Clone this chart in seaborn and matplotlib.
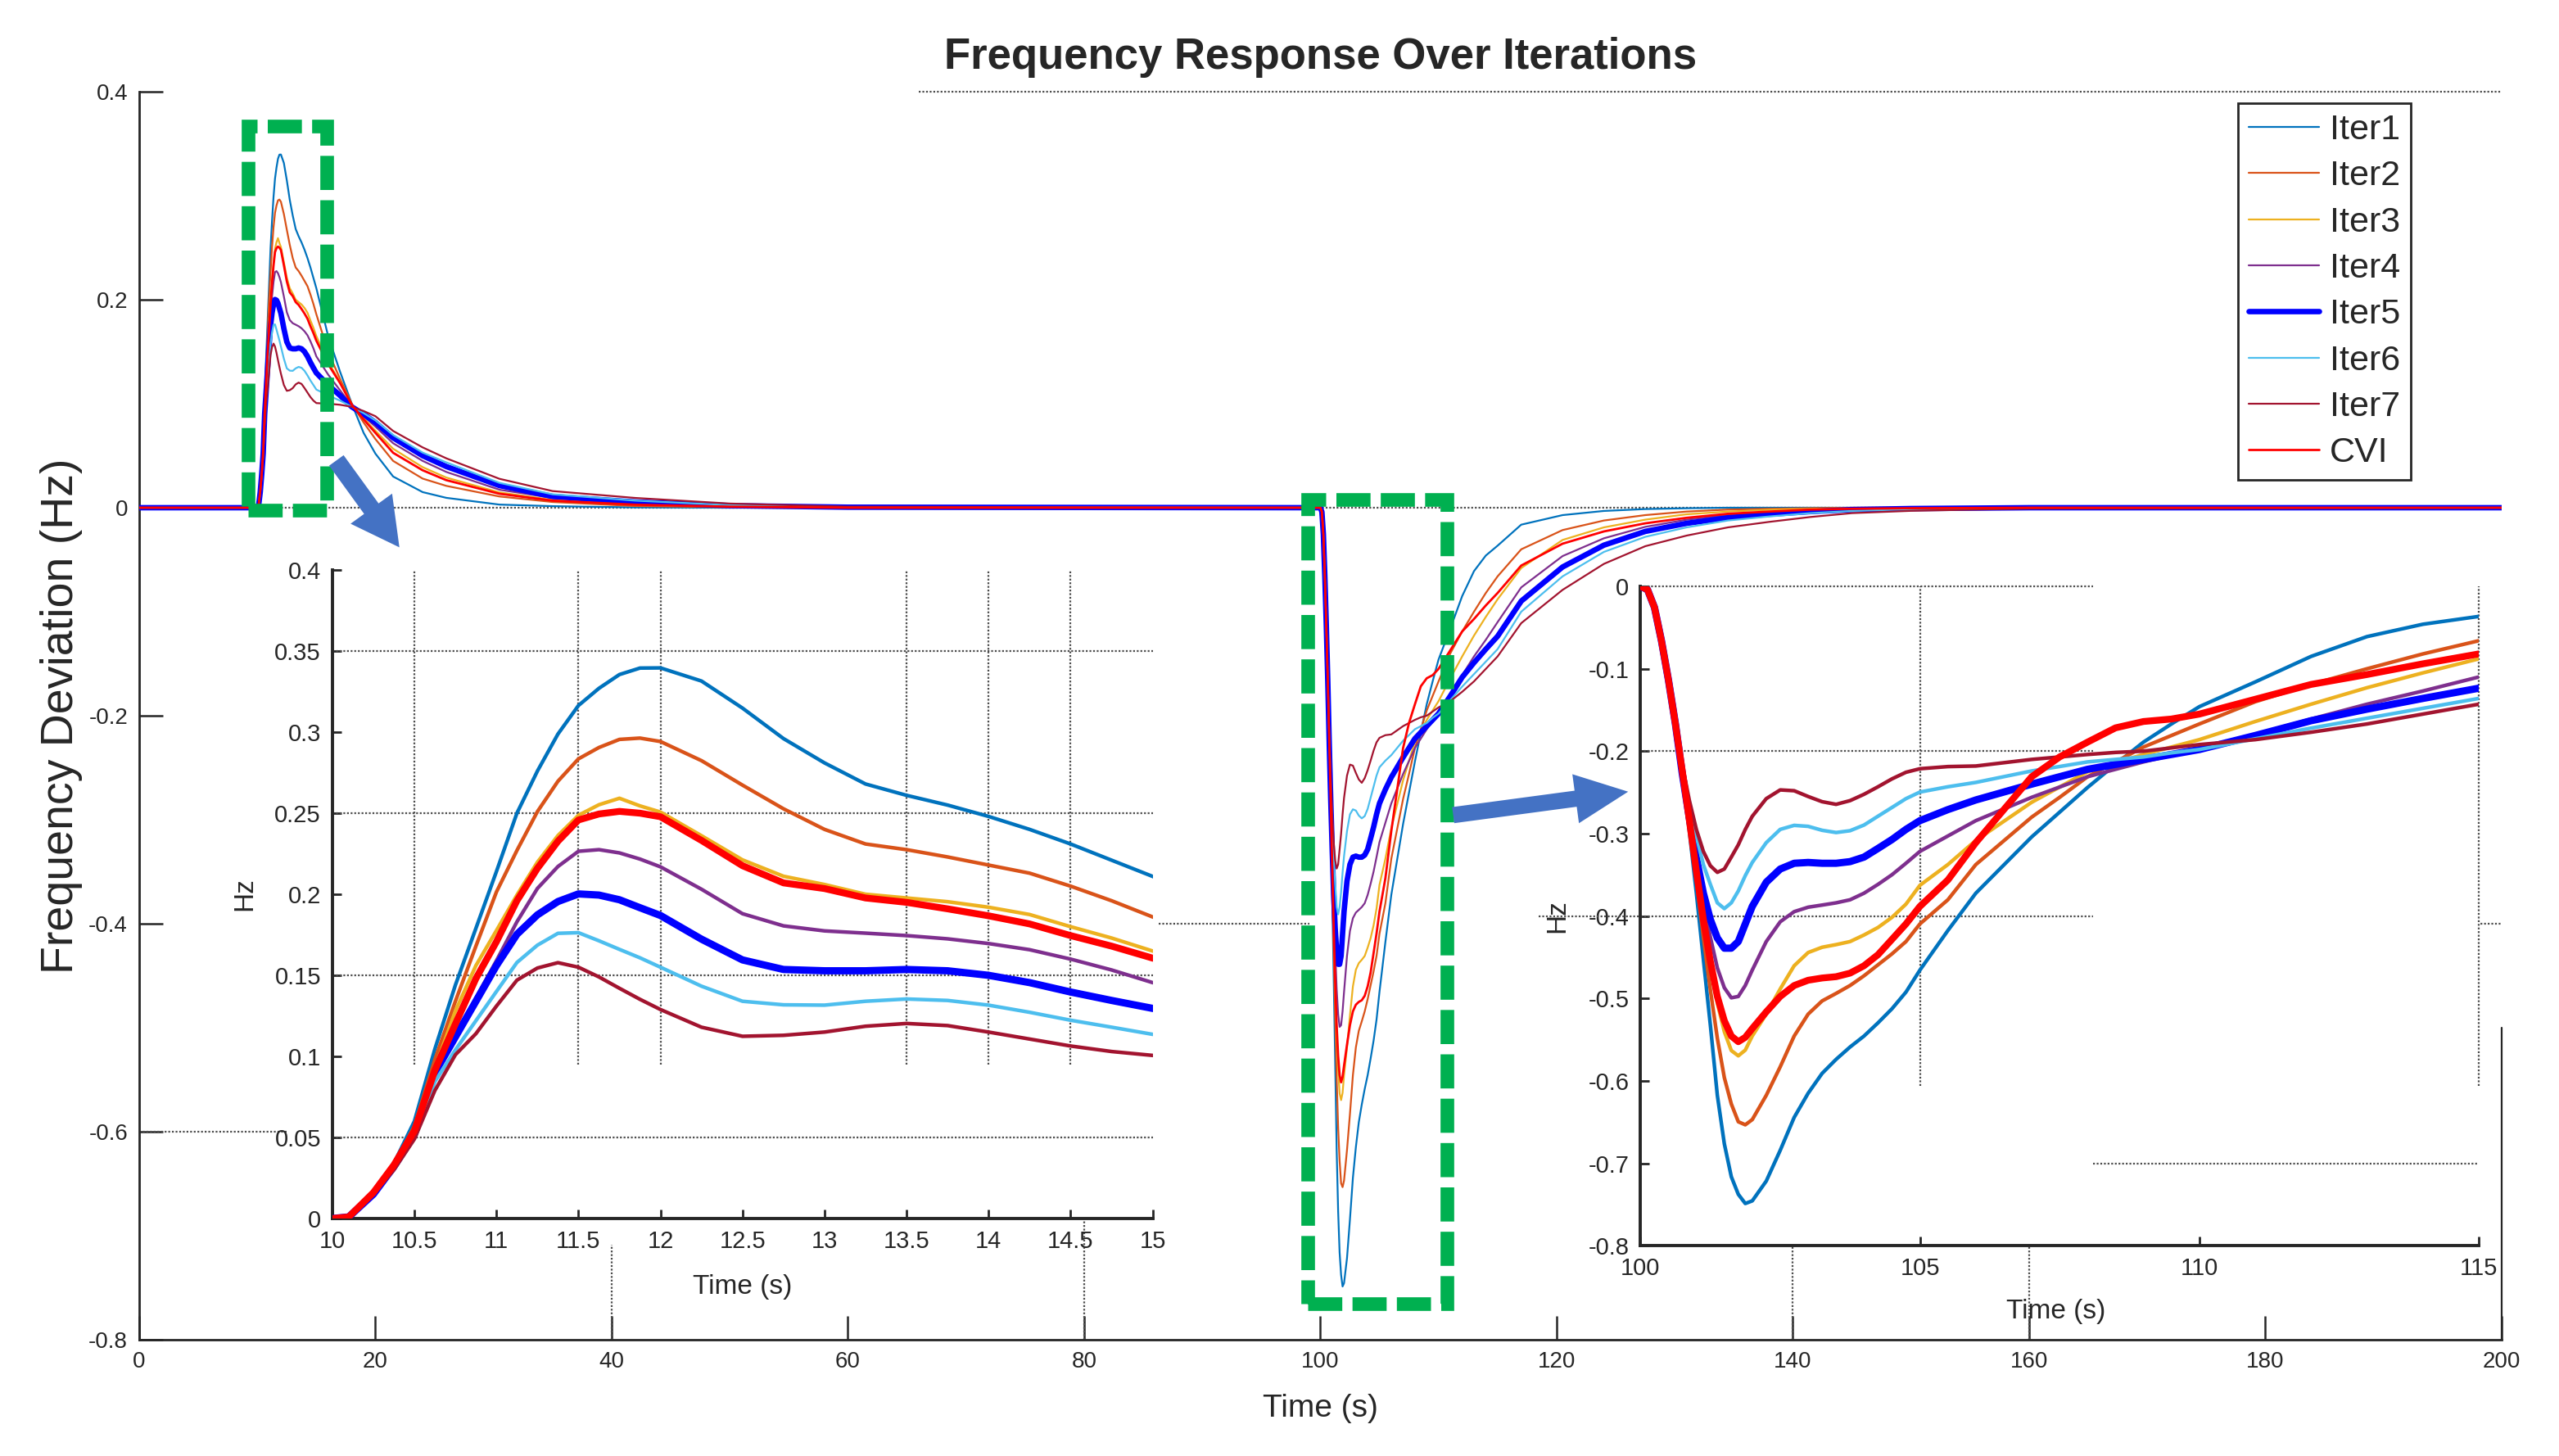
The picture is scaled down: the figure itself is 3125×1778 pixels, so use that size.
import matplotlib
matplotlib.use("Agg")
import matplotlib.pyplot as plt
import seaborn as sns
import pandas as pd
from matplotlib.patches import Rectangle, FancyArrow
from matplotlib.ticker import FuncFormatter, MultipleLocator

# ---------------- data ----------------
series_names = ["Iter1", "Iter2", "Iter3", "Iter4", "Iter5", "Iter6", "Iter7", "CVI"]
series_colors = ["#0072BD", "#D95319", "#EDB120", "#7E2F8E", "#0000FF", "#4DBEEE", "#A2142F", "#FF0000"]

# first disturbance (rise around t = 10 s)
t_rise = [0, 10, 10.1, 10.25, 10.375,
          10.5, 10.625, 10.75, 10.875, 11, 11.125, 11.25, 11.375, 11.5, 11.625, 11.75, 11.875,
          12, 12.25, 12.5, 12.75, 13, 13.25, 13.5, 13.75, 14, 14.25, 14.5, 14.75, 15,
          16, 17, 18, 19, 20,
          21.5, 24, 26, 30.5, 35, 42, 50, 60]
# second disturbance (dip around t = 100 s)
t_dip = [100, 100.125, 100.25, 100.375, 100.5, 100.625,
         100.75, 100.875, 101, 101.125, 101.25, 101.375, 101.5, 101.625, 101.75, 101.875, 102,
         102.25, 102.5, 102.75, 103, 103.25, 103.5, 103.75, 104, 104.25, 104.5, 104.75, 105,
         105.5, 106,
         107, 107.5, 108, 108.5, 109, 109.5, 110,
         111, 112, 113, 114, 115,
         117, 120.5, 124, 127.5, 131, 134.5, 138, 141.5, 145, 150, 160, 200]

iter1_rise = [0, 0, 0.001, 0.016, 0.034,
              0.060, 0.1046, 0.144, 0.179, 0.214, 0.250, 0.276, 0.2988, 0.3164, 0.327, 0.3355, 0.3395,
              0.3396, 0.3315, 0.3148, 0.296, 0.281, 0.268, 0.261, 0.255, 0.248, 0.240, 0.231, 0.221, 0.211,
              0.165, 0.131, 0.100, 0.072, 0.052,
              0.030, 0.015, 0.0095, 0.003, 0.0015, 0.0003, 0, 0]
iter2_rise = [0, 0, 0.001, 0.016, 0.033,
              0.057, 0.098, 0.134, 0.168, 0.2014, 0.227, 0.251, 0.2697, 0.2835, 0.2905, 0.2955, 0.2963,
              0.2942, 0.2824, 0.2673, 0.2527, 0.240, 0.231, 0.2275, 0.223, 0.218, 0.213, 0.205, 0.196, 0.186,
              0.150, 0.124, 0.100, 0.082, 0.066,
              0.045, 0.028, 0.021, 0.0108, 0.0055, 0.0016, 0.0005, 0]
iter3_rise = [0, 0, 0.001, 0.016, 0.033,
              0.055, 0.0925, 0.128, 0.156, 0.1776, 0.1995, 0.2198, 0.2362, 0.2487, 0.2552, 0.2592, 0.2545,
              0.2507, 0.2361, 0.2212, 0.2111, 0.206, 0.200, 0.1977, 0.1954, 0.192, 0.1875, 0.180, 0.173, 0.165,
              0.140, 0.121, 0.099, 0.086, 0.074,
              0.0567, 0.039, 0.029, 0.0147, 0.0075, 0.0029, 0.001, 0]
iter4_rise = [0, 0, 0.001, 0.015, 0.032,
              0.053, 0.091, 0.112, 0.136, 0.159, 0.183, 0.2036, 0.2171, 0.2265, 0.2275, 0.2255, 0.2217,
              0.2169, 0.2031, 0.188, 0.1805, 0.1774, 0.176, 0.1745, 0.1725, 0.1696, 0.1658, 0.160, 0.1533, 0.1455,
              0.128, 0.113, 0.098, 0.088, 0.078,
              0.062, 0.045, 0.0344, 0.0173, 0.0094, 0.0042, 0.0015, 0.0003]
iter5_rise = [0, 0, 0.001, 0.015, 0.032,
              0.052, 0.090, 0.112, 0.134, 0.156, 0.1753, 0.1873, 0.1955, 0.2002, 0.1995, 0.1966, 0.1917,
              0.1869, 0.1723, 0.1595, 0.1536, 0.1528, 0.1528, 0.1536, 0.1528, 0.150, 0.1455, 0.1397, 0.1345, 0.1296,
              0.118, 0.108, 0.097, 0.090, 0.082,
              0.0672, 0.050, 0.0396, 0.0213, 0.0108, 0.0055, 0.002, 0.0005]
iter6_rise = [0, 0, 0.001, 0.015, 0.031,
              0.051, 0.0845, 0.104, 0.122, 0.140, 0.1579, 0.1686, 0.1759, 0.1763, 0.1713, 0.166, 0.1608,
              0.155, 0.1433, 0.134, 0.1318, 0.1316, 0.134, 0.1354, 0.1345, 0.1316, 0.1272, 0.1223, 0.118, 0.1136,
              0.108, 0.103, 0.097, 0.091, 0.084,
              0.0699, 0.053, 0.0436, 0.0239, 0.0129, 0.0068, 0.0025, 0.0006]
iter7_rise = [0, 0, 0.001, 0.015, 0.030,
              0.049, 0.079, 0.101, 0.114, 0.131, 0.147, 0.1545, 0.1578, 0.155, 0.149, 0.142, 0.1352,
              0.1289, 0.118, 0.1124, 0.113, 0.115, 0.1186, 0.1203, 0.119, 0.115, 0.1107, 0.1064, 0.103, 0.1006,
              0.100, 0.099, 0.097, 0.093, 0.088,
              0.0738, 0.058, 0.0475, 0.0278, 0.016, 0.0094, 0.004, 0.001]
cvi_rise = [0, 0, 0.001, 0.016, 0.033,
            0.054, 0.0915, 0.120, 0.148, 0.1707, 0.196, 0.216, 0.2327, 0.2458, 0.2495, 0.2511, 0.2500,
            0.2478, 0.2332, 0.2176, 0.207, 0.2035, 0.1977, 0.195, 0.191, 0.1867, 0.1817, 0.1745, 0.168, 0.1606,
            0.138, 0.120, 0.099, 0.085, 0.072,
            0.0528, 0.036, 0.0265, 0.0134, 0.0068, 0.0029, 0.001, 0]

dip_start = [0, -0.004, -0.0256, -0.066, -0.1136, -0.167]
iter1_dip = dip_start + [
    -0.23, -0.2976, -0.3723, -0.4523, -0.5323, -0.6176, -0.6763, -0.7163, -0.7376, -0.7488, -0.7456,
    -0.7216, -0.6843, -0.6443, -0.615, -0.5909, -0.5739, -0.5589, -0.5456, -0.5296, -0.5125, -0.4923, -0.4656,
    -0.4176, -0.3723,
    -0.304, -0.274, -0.244, -0.216, -0.189, -0.167, -0.146,
    -0.116, -0.085, -0.061, -0.046, -0.0365,
    -0.0163, -0.0071, -0.0031, -0.0013, -0.0005, 0, 0, 0, 0, 0, 0, 0]
iter2_dip = dip_start + [
    -0.228, -0.2896, -0.3563, -0.4256, -0.4896, -0.5483, -0.596, -0.628, -0.6496, -0.6533, -0.647,
    -0.6176, -0.583, -0.5456, -0.519, -0.503, -0.4939, -0.4843, -0.4725, -0.4592, -0.4459, -0.431, -0.4096,
    -0.3803, -0.3376,
    -0.28, -0.256, -0.231, -0.213, -0.195, -0.181, -0.167,
    -0.14, -0.119, -0.1, -0.082, -0.066,
    -0.040, -0.0215, -0.0123, -0.0071, -0.0037, -0.0018, -0.001, -0.0005, 0, 0, 0, 0]
iter3_dip = dip_start + [
    -0.228, -0.287, -0.3456, -0.4043, -0.4576, -0.5056, -0.5403, -0.5632, -0.5696, -0.5627, -0.5456,
    -0.519, -0.4885, -0.4603, -0.4443, -0.4379, -0.4347, -0.431, -0.423, -0.4139, -0.4016, -0.3856, -0.3627,
    -0.3376, -0.3083,
    -0.262, -0.2435, -0.225, -0.214, -0.204, -0.195, -0.186,
    -0.164, -0.143, -0.123, -0.105, -0.088,
    -0.058, -0.031, -0.0189, -0.0115, -0.0063, -0.0037, -0.002, -0.001, -0.0005, 0, 0, 0]
iter4_dip = dip_start + [
    -0.228, -0.2843, -0.335, -0.383, -0.4256, -0.463, -0.487, -0.4992, -0.4976, -0.4843, -0.4656,
    -0.431, -0.407, -0.3947, -0.3893, -0.3867, -0.384, -0.3803, -0.3723, -0.3616, -0.3499, -0.336, -0.3216,
    -0.3029, -0.2843,
    -0.256, -0.2435, -0.231, -0.222, -0.213, -0.205, -0.198,
    -0.18, -0.161, -0.143, -0.127, -0.11,
    -0.0766, -0.0465, -0.0294, -0.0184, -0.0115, -0.0071, -0.0042, -0.0024, -0.001, 0, 0, 0]
iter5_dip = dip_start + [
    -0.2283, -0.2816, -0.3296, -0.3723, -0.4043, -0.4267, -0.439, -0.439, -0.431, -0.4096, -0.3883,
    -0.359, -0.343, -0.336, -0.335, -0.336, -0.336, -0.334, -0.3285, -0.318, -0.3072, -0.2949, -0.2843,
    -0.2709, -0.2592,
    -0.24, -0.231, -0.222, -0.216, -0.21, -0.204, -0.198,
    -0.181, -0.163, -0.149, -0.136, -0.1236,
    -0.0898, -0.057, -0.036, -0.0228, -0.015, -0.0097, -0.0063, -0.0037, -0.0018, -0.0008, 0, 0]
iter6_dip = dip_start + [
    -0.222, -0.2656, -0.303, -0.3376, -0.3616, -0.384, -0.391, -0.384, -0.3696, -0.351, -0.335,
    -0.311, -0.2949, -0.290, -0.2912, -0.296, -0.2987, -0.2965, -0.2896, -0.2789, -0.2683, -0.2576, -0.2496,
    -0.2432, -0.2379,
    -0.224, -0.2186, -0.213, -0.21, -0.207, -0.202, -0.198,
    -0.185, -0.172, -0.16, -0.148, -0.136,
    -0.100, -0.066, -0.0425, -0.028, -0.0189, -0.0123, -0.0084, -0.0052, -0.0031, -0.0015, 0, 0]
iter7_dip = dip_start + [
    -0.2176, -0.26, -0.295, -0.3216, -0.339, -0.347, -0.343, -0.3285, -0.3136, -0.295, -0.279,
    -0.2576, -0.247, -0.248, -0.255, -0.2613, -0.2645, -0.26, -0.2523, -0.2432, -0.2336, -0.2256, -0.2213,
    -0.2187, -0.218,
    -0.21, -0.207, -0.204, -0.2015, -0.2, -0.196, -0.192,
    -0.186, -0.177, -0.167, -0.155, -0.143,
    -0.111, -0.079, -0.054, -0.037, -0.0268, -0.0189, -0.0136, -0.0089, -0.0052, -0.003, -0.0008, 0]
cvi_dip = dip_start + [
    -0.225, -0.2843, -0.3456, -0.4043, -0.455, -0.4976, -0.527, -0.5456, -0.5525, -0.5472, -0.5365,
    -0.5163, -0.4976, -0.4843, -0.4779, -0.4752, -0.4736, -0.4693, -0.4603, -0.4469, -0.4283, -0.4096, -0.3883,
    -0.3563, -0.311,
    -0.231, -0.207, -0.189, -0.1717, -0.164, -0.161, -0.155,
    -0.137, -0.119, -0.107, -0.094, -0.082,
    -0.0556, -0.0346, -0.0228, -0.015, -0.0097, -0.0058, -0.0037, -0.0018, -0.001, -0.0005, 0, 0]

rise_values = [iter1_rise, iter2_rise, iter3_rise, iter4_rise, iter5_rise, iter6_rise, iter7_rise, cvi_rise]
dip_values = [iter1_dip, iter2_dip, iter3_dip, iter4_dip, iter5_dip, iter6_dip, iter7_dip, cvi_dip]

main_xticks = list(range(0, 201, 20))
main_yticks = [-0.8, -0.6, -0.4, -0.2, 0, 0.2, 0.4]

# ---------------- build tidy table ----------------
rows = []
for name, rv, dv in zip(series_names, rise_values, dip_values):
    assert len(rv) == len(t_rise), (name, len(rv), len(t_rise))
    assert len(dv) == len(t_dip), (name, len(dv), len(t_dip))
    for t, v in zip(t_rise + t_dip, rv + dv):
        rows.append((name, t, v))
df = pd.DataFrame(rows, columns=["Series", "Time", "Freq"])

# ---------------- style ----------------
sns.set_style("white")
plt.rcParams["font.family"] = ["Liberation Sans", "DejaVu Sans"]
plt.rcParams["axes.unicode_minus"] = False

TXT = "#262626"
GRID = dict(color="0.3", linestyle=(0, (1, 1)), linewidth=0.8)
fmt = FuncFormatter(lambda v, p: "0" if abs(v) < 1e-9 else f"{v:g}")

fig = plt.figure(figsize=(15.625, 8.89), dpi=200)

main_lw = {"Iter5": 2.4, "CVI": 1.0}
inset_lw = {"Iter5": 3.2, "CVI": 3.0}

# ---------------- main axes ----------------
ax = fig.add_axes([0.05438, 0.07987, 0.92322, 0.85714])
for name, col in zip(series_names, series_colors):
    d = df[df["Series"] == name]
    sns.lineplot(data=d, x="Time", y="Freq", ax=ax, color=col, linewidth=main_lw.get(name, 0.8),
                 label=name, estimator=None, sort=False, zorder=3)
ax.set_xlim(0, 200)
ax.set_ylim(-0.8, 0.4)
ax.set_xticks(main_xticks)
ax.set_yticks(main_yticks)
ax.xaxis.set_major_formatter(fmt)
ax.yaxis.set_major_formatter(fmt)
for s in ["top", "right"]:
    ax.spines[s].set_visible(False)
for s in ["left", "bottom"]:
    ax.spines[s].set_color(TXT)
    ax.spines[s].set_linewidth(1.0)
ax.tick_params(axis="both", which="major", direction="in", length=10.5, width=0.9,
               labelsize=10, colors=TXT, pad=5, bottom=True, left=True)
ax.set_title("Frequency Response Over Iterations", fontsize=19, fontweight="bold", pad=10)
ax.set_xlabel("Time (s)", fontsize=14, color=TXT)
ax.set_ylabel("Frequency Deviation (Hz)", fontsize=20, color=TXT)
ax.xaxis.set_label_coords(0.5, -0.043)
ax.yaxis.set_label_coords(-0.024, 0.5)

# remnants of the main grid
ax.axhline(0.4, xmin=0.33, xmax=1.0, clip_on=False, zorder=1, **GRID)
ax.axhline(0.0, xmin=0.0, xmax=1.0, zorder=1, **GRID)
ax.axhline(-0.4, xmin=0.4315, xmax=0.4955, zorder=1, **GRID)
ax.axhline(-0.4, xmin=0.9665, xmax=1.0, zorder=1, **GRID)
ax.axhline(-0.6, xmin=0.0, xmax=0.0625, zorder=1, **GRID)
for xv, top in [(40, 0.076), (80, 0.096), (140, 0.076), (160, 0.076)]:
    ax.axvline(xv, ymin=0, ymax=top, zorder=1, **GRID)
ax.axvline(200, ymin=0, ymax=0.25, color=TXT, linewidth=0.8, clip_on=False)

# green dashed zoom boxes
box_style = dict(fill=False, edgecolor="#00B050", linewidth=6, linestyle=(0, (2.5, 0.75)),
                 zorder=6, clip_on=False)
ax.add_patch(Rectangle((9.24, -0.002), 15.87 - 9.24, 0.369, **box_style))
ax.add_patch(Rectangle((98.9, -0.765), 110.7 - 98.9, 0.773, **box_style))

leg = ax.legend(loc="upper right", bbox_to_anchor=(0.9615, 0.9908), borderaxespad=0,
                fontsize=15.5, frameon=True, fancybox=False, framealpha=1, edgecolor=TXT,
                handlelength=2.0, handletextpad=0.3, labelspacing=0.38, borderpad=0.3)
leg.get_frame().set_linewidth(1.0)

# ---------------- inset helper ----------------
def style_inset(a, xlim, ylim, xstep, ystep):
    for name, col in zip(series_names, series_colors):
        d = df[df["Series"] == name]
        sns.lineplot(data=d, x="Time", y="Freq", ax=a, color=col,
                     linewidth=inset_lw.get(name, 1.6), estimator=None, sort=False,
                     legend=False, zorder=3)
    a.set_facecolor("white")
    a.set_xlim(*xlim)
    a.set_ylim(*ylim)
    a.xaxis.set_major_locator(MultipleLocator(xstep))
    a.yaxis.set_major_locator(MultipleLocator(ystep))
    a.xaxis.set_major_formatter(fmt)
    a.yaxis.set_major_formatter(fmt)
    for s in ["top", "right"]:
        a.spines[s].set_visible(False)
    for s in ["left", "bottom"]:
        a.spines[s].set_color(TXT)
        a.spines[s].set_linewidth(1.4)
    a.tick_params(axis="both", which="major", direction="in", length=4, width=1.0,
                  labelsize=10.5, colors=TXT, pad=5, bottom=True, left=True)
    a.set_xlabel("Time (s)", fontsize=12, color=TXT)
    a.set_ylabel("Hz", fontsize=12, color=TXT)

# left inset: 10-15 s
ax1 = fig.add_axes([0.12988, 0.16310, 0.32054, 0.44544])
style_inset(ax1, (10, 15), (0, 0.4), 0.5, 0.05)
ax1.xaxis.set_label_coords(0.5, -0.086)
ax1.yaxis.set_label_coords(-0.091, 0.5)
for xv in [10.5, 11.5, 12, 13.5, 14, 14.5]:
    ax1.axvline(xv, ymin=0.2375, ymax=1, zorder=1, **GRID)
for yv in [0.05, 0.15, 0.25, 0.35]:
    ax1.axhline(yv, xmin=0, xmax=1, zorder=1, **GRID)

# right inset: 100-115 s
ax2 = fig.add_axes([0.64107, 0.14443, 0.32758, 0.45287])
style_inset(ax2, (100, 115), (-0.8, 0), 5, 0.1)
ax2.xaxis.set_label_coords(0.496, -0.08)
ax2.yaxis.set_label_coords(-0.084, 0.5)
for xv in [105, 115]:
    ax2.axvline(xv, ymin=0.2425, ymax=1, zorder=1, clip_on=False, **GRID)
for yv in [0, -0.2]:
    ax2.axhline(yv, xmin=0, xmax=0.54, zorder=1, clip_on=False, **GRID)
ax2.axhline(-0.4, xmin=-0.121, xmax=0.54, zorder=1, clip_on=False, **GRID)
ax2.axhline(-0.7, xmin=0.54, xmax=1.0, zorder=1, **GRID)

# ---------------- blue arrows ----------------
arrow_style = dict(length_includes_head=True, color="#4472C4", transform=fig.dpi_scale_trans,
                   zorder=10)
fig.add_artist(FancyArrow(2.058, 6.073, 0.372, -0.513, width=0.095, head_width=0.29,
                          head_length=0.27, **arrow_style))
fig.add_artist(FancyArrow(8.88, 3.914, 1.045, 0.14, width=0.085, head_width=0.28,
                          head_length=0.30, **arrow_style))

fig.savefig("out.png", dpi=200)
